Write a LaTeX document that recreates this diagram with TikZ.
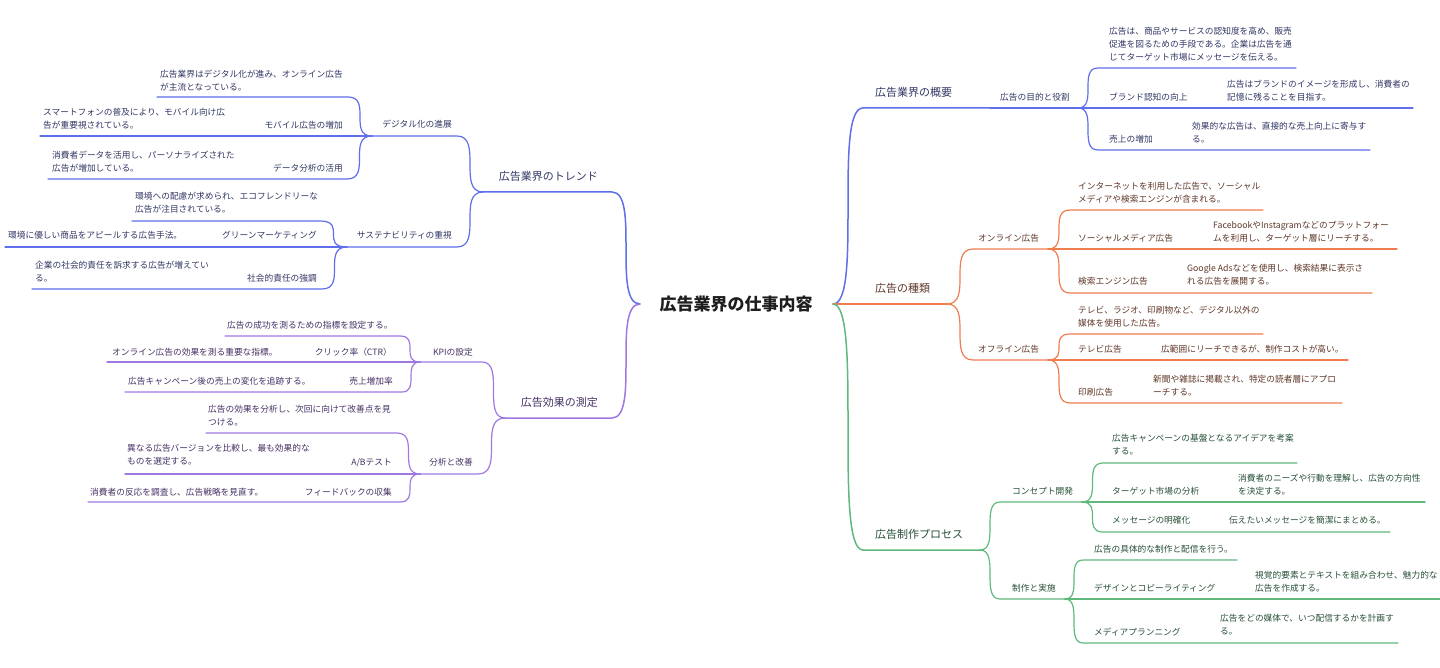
\documentclass[tikz,border=0pt]{standalone}
\usepackage{fontspec}
\newfontfamily\jp{Noto Sans CJK JP}
\definecolor{lb}{RGB}{95,110,235}
\definecolor{lo}{RGB}{240,125,80}
\definecolor{lg}{RGB}{95,185,125}
\definecolor{lp}{RGB}{160,120,225}
\definecolor{tb}{RGB}{50,55,100}
\definecolor{to}{RGB}{95,55,40}
\definecolor{tg}{RGB}{40,80,55}
\definecolor{tp}{RGB}{70,50,100}
\definecolor{troot}{RGB}{30,30,30}
\tikzset{
  scurve/.style={to path={.. controls (\tikztostart -| \tikztotarget) and (\tikztotarget -| \tikztostart) .. (\tikztotarget)}},
  every node/.style={inner sep=0pt, align=left},
  tx/.style={font=\jp\fontsize{8.7}{13}\selectfont},
  tl/.style={font=\jp\fontsize{11}{13}\selectfont},
  rootst/.style={font=\jp\bfseries\fontsize{17}{20}\selectfont, text=troot},
  ln/.style={line width=1.2pt, line cap=round},
  lnw/.style={line width=1.5pt, line cap=round},
}
\begin{document}
\begin{tikzpicture}[x=1pt,y=-1pt]
\useasboundingbox[fill=white] (0,0) rectangle (1440,668);

% root
\node[rootst] (root) at (736,304) {広告業界の仕事内容};
\coordinate (R) at (833,304);
\coordinate (L) at (640,304);

% ===== right: blue =====
\coordinate (a1) at (863,108); \coordinate (a1e) at (990,108);
\draw[lnw,lb] (R) to[scurve] (a1) -- (a1e);
\node[tl,text=tb,anchor=west] (na1) at (875,92) {広告業界の概要};
\coordinate (a11e) at (1078,108);
\draw[ln,lb] (a1e) -- (a11e);
\node[tx,text=tb,anchor=west] (na11) at (1000,97) {広告の目的と役割};
\coordinate (a111) at (1098,68); \coordinate (a111e) at (1296,68);
\draw[ln,lb] (a11e) to[scurve] (a111) -- (a111e);
\node[tx,text=tb,anchor=west] (na111) at (1109,44.5) {広告は、商品やサービスの認知度を高め、販売\\促進を図るための手段である。企業は広告を通\\じてターゲット市場にメッセージを伝える。};
\coordinate (a112) at (1098,108); \coordinate (a112e) at (1222,108); \coordinate (a112d) at (1413,108);
\draw[ln,lb] (a11e) -- (a112) -- (a112e) -- (a112d);
\node[tx,text=tb,anchor=west] (na112) at (1109,97) {ブランド認知の向上};
\node[tx,text=tb,anchor=west] (da112) at (1227,90.5) {広告はブランドのイメージを形成し、消費者の\\記憶に残ることを目指す。};
\coordinate (a113) at (1098,150); \coordinate (a113e) at (1188,150); \coordinate (a113d) at (1370,150);
\draw[ln,lb] (a11e) to[scurve] (a113) -- (a113e) -- (a113d);
\node[tx,text=tb,anchor=west] (na113) at (1109,139) {売上の増加};
\node[tx,text=tb,anchor=west] (da113) at (1192,133) {効果的な広告は、直接的な売上向上に寄与す\\る。};

% ===== right: orange =====
\coordinate (b1e) at (947,304);
\draw[lnw,lo] (R) -- (b1e);
\node[tl,text=to,anchor=west] (nb1) at (875,288) {広告の種類};
\coordinate (b11) at (973,249); \coordinate (b11e) at (1048,249);
\draw[ln,lo] (b1e) to[scurve] (b11) -- (b11e);
\node[tx,text=to,anchor=west] (nb11) at (978,238) {オンライン広告};
\coordinate (b111) at (1070,210); \coordinate (b111e) at (1263,210);
\draw[ln,lo] (b11e) to[scurve] (b111) -- (b111e);
\node[tx,text=to,anchor=west] (nb111) at (1078,192.5) {インターネットを利用した広告で、ソーシャル\\メディアや検索エンジンが含まれる。};
\coordinate (b112) at (1070,249); \coordinate (b112e) at (1208,249); \coordinate (b112d) at (1397,249);
\draw[ln,lo] (b11e) -- (b112) -- (b112e) -- (b112d);
\node[tx,text=to,anchor=west] (nb112) at (1078,238) {ソーシャルメディア広告};
\node[tx,text=to,anchor=west] (db112) at (1213,232) {FacebookやInstagramなどのプラットフォー\\ムを利用し、ターゲット層にリーチする。};
\coordinate (b113) at (1070,293); \coordinate (b113e) at (1182,293); \coordinate (b113d) at (1372,293);
\draw[ln,lo] (b11e) to[scurve] (b113) -- (b113e) -- (b113d);
\node[tx,text=to,anchor=west] (nb113) at (1078,281) {検索エンジン広告};
\node[tx,text=to,anchor=west] (db113) at (1187,275) {Google Adsなどを使用し、検索結果に表示さ\\れる広告を展開する。};
\coordinate (b12) at (973,360); \coordinate (b12e) at (1048,360);
\draw[ln,lo] (b1e) to[scurve] (b12) -- (b12e);
\node[tx,text=to,anchor=west] (nb12) at (978,349) {オフライン広告};
\coordinate (b121) at (1070,334); \coordinate (b121e) at (1263,334);
\draw[ln,lo] (b12e) to[scurve] (b121) -- (b121e);
\node[tx,text=to,anchor=west] (nb121) at (1078,316.5) {テレビ、ラジオ、印刷物など、デジタル以外の\\媒体を使用した広告。};
\coordinate (b122) at (1070,360); \coordinate (b122e) at (1155,360); \coordinate (b122d) at (1348,360);
\draw[ln,lo] (b12e) -- (b122) -- (b122e) -- (b122d);
\node[tx,text=to,anchor=west] (nb122) at (1078,349) {テレビ広告};
\node[tx,text=to,anchor=west] (db122) at (1161,349) {広範囲にリーチできるが、制作コストが高い。};
\coordinate (b123) at (1070,403); \coordinate (b123e) at (1148,403); \coordinate (b123d) at (1342,403);
\draw[ln,lo] (b12e) to[scurve] (b123) -- (b123e) -- (b123d);
\node[tx,text=to,anchor=west] (nb123) at (1078,392) {印刷広告};
\node[tx,text=to,anchor=west] (db123) at (1153,385.5) {新聞や雑誌に掲載され、特定の読者層にアプロ\\ーチする。};

% ===== right: green =====
\coordinate (c1) at (863,550); \coordinate (c1e) at (980,550);
\draw[lnw,lg] (R) to[scurve] (c1) -- (c1e);
\node[tl,text=tg,anchor=west] (nc1) at (875,534) {広告制作プロセス};
\coordinate (c11) at (1000,502); \coordinate (c11e) at (1082,502);
\draw[ln,lg] (c1e) to[scurve] (c11) -- (c11e);
\node[tx,text=tg,anchor=west] (nc11) at (1012,491) {コンセプト開発};
\coordinate (c111) at (1103,463); \coordinate (c111e) at (1297,463);
\draw[ln,lg] (c11e) to[scurve] (c111) -- (c111e);
\node[tx,text=tg,anchor=west] (nc111) at (1112,444.5) {広告キャンペーンの基盤となるアイデアを考案\\する。};
\coordinate (c112) at (1103,502); \coordinate (c112e) at (1233,502); \coordinate (c112d) at (1425,502);
\draw[ln,lg] (c11e) -- (c112) -- (c112e) -- (c112d);
\node[tx,text=tg,anchor=west] (nc112) at (1112,491) {ターゲット市場の分析};
\node[tx,text=tg,anchor=west] (dc112) at (1238,484.5) {消費者のニーズや行動を理解し、広告の方向性\\を決定する。};
\coordinate (c113) at (1103,532); \coordinate (c113e) at (1222,532); \coordinate (c113d) at (1390,532);
\draw[ln,lg] (c11e) to[scurve] (c113) -- (c113e) -- (c113d);
\node[tx,text=tg,anchor=west] (nc113) at (1112,520) {メッセージの明確化};
\node[tx,text=tg,anchor=west] (dc113) at (1229,520) {伝えたいメッセージを簡潔にまとめる。};
\coordinate (c12) at (1000,599); \coordinate (c12e) at (1065,599);
\draw[ln,lg] (c1e) to[scurve] (c12) -- (c12e);
\node[tx,text=tg,anchor=west] (nc12) at (1012,588) {制作と実施};
\coordinate (c121) at (1083,560); \coordinate (c121e) at (1237,560);
\draw[ln,lg] (c12e) to[scurve] (c121) -- (c121e);
\node[tx,text=tg,anchor=west] (nc121) at (1094,549) {広告の具体的な制作と配信を行う。};
\coordinate (c122) at (1083,599); \coordinate (c122e) at (1250,599); \coordinate (c122d) at (1440,599);
\draw[ln,lg] (c12e) -- (c122) -- (c122e) -- (c122d);
\node[tx,text=tg,anchor=west] (nc122) at (1094,588) {デザインとコピーライティング};
\node[tx,text=tg,anchor=west] (dc122) at (1255,582) {視覚的要素とテキストを組み合わせ、魅力的な\\広告を作成する。};
\coordinate (c123) at (1083,643); \coordinate (c123e) at (1215,643); \coordinate (c123d) at (1398,643);
\draw[ln,lg] (c12e) to[scurve] (c123) -- (c123e) -- (c123d);
\node[tx,text=tg,anchor=west] (nc123) at (1094,632) {メディアプランニング};
\node[tx,text=tg,anchor=west] (dc123) at (1220,625) {広告をどの媒体で、いつ配信するかを計画す\\る。};

% ===== left: blue =====
\coordinate (d1) at (612,192); \coordinate (d1e) at (483,192);
\draw[lnw,lb] (L) to[scurve] (d1) -- (d1e);
\node[tl,text=tb,anchor=east] (nd1) at (598,176) {広告業界のトレンド};
\coordinate (d11) at (457,136); \coordinate (d11e) at (372,136);
\draw[ln,lb] (d1e) to[scurve] (d11) -- (d11e);
\node[tx,text=tb,anchor=east] (nd11) at (452,124) {デジタル化の進展};
\coordinate (d111) at (348,97); \coordinate (d111e) at (157,97);
\draw[ln,lb] (d11e) to[scurve] (d111) -- (d111e);
\node[tx,text=tb,anchor=west] (nd111) at (160,80.5) {広告業界はデジタル化が進み、オンライン広告\\が主流となっている。};
\coordinate (d112) at (350,136); \coordinate (d112e) at (260,136); \coordinate (d112d) at (40,136);
\draw[ln,lb] (d11e) -- (d112) -- (d112e) -- (d112d);
\node[tx,text=tb,anchor=east] (nd112) at (343,125) {モバイル広告の増加};
\node[tx,text=tb,anchor=west] (dd112) at (43,119) {スマートフォンの普及により、モバイル向け広\\告が重要視されている。};
\coordinate (d113) at (347,179); \coordinate (d113e) at (268,179); \coordinate (d113d) at (48,179);
\draw[ln,lb] (d11e) to[scurve] (d113) -- (d113e) -- (d113d);
\node[tx,text=tb,anchor=east] (nd113) at (343,168) {データ分析の活用};
\node[tx,text=tb,anchor=west] (dd113) at (52,161.5) {消費者データを活用し、パーソナライズされた\\広告が増加している。};
\coordinate (d12) at (457,247); \coordinate (d12e) at (347,247);
\draw[ln,lb] (d1e) to[scurve] (d12) -- (d12e);
\node[tx,text=tb,anchor=east] (nd12) at (452,235) {サステナビリティの重視};
\coordinate (d121) at (320,221); \coordinate (d121e) at (132,221);
\draw[ln,lb] (d12e) to[scurve] (d121) -- (d121e);
\node[tx,text=tb,anchor=west] (nd121) at (135,202.5) {環境への配慮が求められ、エコフレンドリーな\\広告が注目されている。};
\coordinate (d122) at (325,247); \coordinate (d122e) at (215,247); \coordinate (d122d) at (5,247);
\draw[ln,lb] (d12e) -- (d122) -- (d122e) -- (d122d);
\node[tx,text=tb,anchor=east] (nd122) at (317,235) {グリーンマーケティング};
\node[tx,text=tb,anchor=west] (dd122) at (8,235) {環境に優しい商品をアピールする広告手法。};
\coordinate (d123) at (322,289); \coordinate (d123e) at (243,289); \coordinate (d123d) at (32,289);
\draw[ln,lb] (d12e) to[scurve] (d123) -- (d123e) -- (d123d);
\node[tx,text=tb,anchor=east] (nd123) at (317,278) {社会的責任の強調};
\node[tx,text=tb,anchor=west] (dd123) at (35,272) {企業の社会的責任を訴求する広告が増えてい\\る。};

% ===== left: purple =====
\coordinate (e1) at (612,418); \coordinate (e1e) at (505,418);
\draw[lnw,lp] (L) to[scurve] (e1) -- (e1e);
\node[tl,text=tp,anchor=east] (ne1) at (598,402) {広告効果の測定};
\coordinate (e11) at (482,362); \coordinate (e11e) at (420,362);
\draw[ln,lp] (e1e) to[scurve] (e11) -- (e11e);
\node[tx,text=tp,anchor=east] (ne11) at (473,352) {KPIの設定};
\coordinate (e111) at (400,336); \coordinate (e111e) at (225,336);
\draw[ln,lp] (e11e) to[scurve] (e111) -- (e111e);
\node[tx,text=tp,anchor=west] (ne111) at (227,325) {広告の成功を測るための指標を設定する。};
\coordinate (e112) at (400,362); \coordinate (e112e) at (305,362); \coordinate (e112d) at (107,362);
\draw[ln,lp] (e11e) -- (e112) -- (e112e) -- (e112d);
\node[tx,text=tp,anchor=east] (ne112) at (392,352) {クリック率（CTR）};
\node[tx,text=tp,anchor=west] (de112) at (112,352) {オンライン広告の効果を測る重要な指標。};
\coordinate (e113) at (402,392); \coordinate (e113e) at (342,392); \coordinate (e113d) at (125,392);
\draw[ln,lp] (e11e) to[scurve] (e113) -- (e113e) -- (e113d);
\node[tx,text=tp,anchor=east] (ne113) at (393,381) {売上増加率};
\node[tx,text=tp,anchor=west] (de113) at (128,381) {広告キャンペーン後の売上の変化を追跡する。};
\coordinate (e12) at (478,474); \coordinate (e12e) at (420,474);
\draw[ln,lp] (e1e) to[scurve] (e12) -- (e12e);
\node[tx,text=tp,anchor=east] (ne12) at (473,462) {分析と改善};
\coordinate (e121) at (397,433); \coordinate (e121e) at (206,433);
\draw[ln,lp] (e12e) to[scurve] (e121) -- (e121e);
\node[tx,text=tp,anchor=west] (ne121) at (208,416) {広告の効果を分析し、次回に向けて改善点を見\\つける。};
\coordinate (e122) at (400,474); \coordinate (e122e) at (340,474); \coordinate (e122d) at (125,474);
\draw[ln,lp] (e12e) -- (e122) -- (e122e) -- (e122d);
\node[tx,text=tp,anchor=east] (ne122) at (392,463) {A/Bテスト};
\node[tx,text=tp,anchor=west] (de122) at (127,455) {異なる広告バージョンを比較し、最も効果的な\\ものを選定する。};
\coordinate (e123) at (400,502); \coordinate (e123e) at (298,502); \coordinate (e123d) at (88,502);
\draw[ln,lp] (e12e) to[scurve] (e123) -- (e123e) -- (e123d);
\node[tx,text=tp,anchor=east] (ne123) at (392,492) {フィードバックの収集};
\node[tx,text=tp,anchor=west] (de123) at (90,492) {消費者の反応を調査し、広告戦略を見直す。};
\end{tikzpicture}
\end{document}
